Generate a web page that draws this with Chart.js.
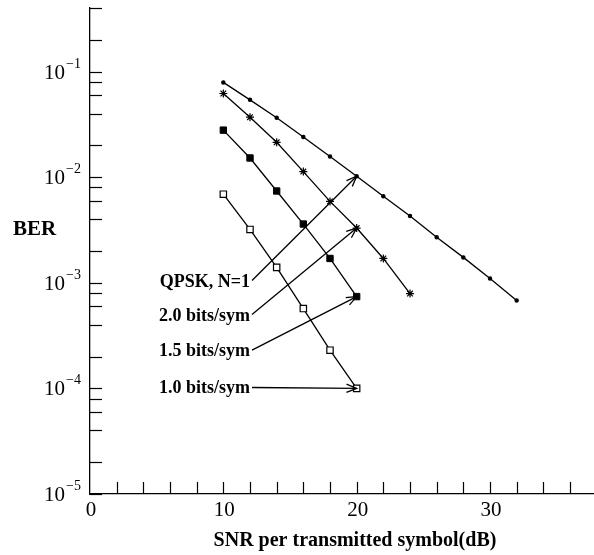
<!DOCTYPE html>
<html>
<head>
<meta charset="utf-8">
<script src="https://cdn.jsdelivr.net/npm/chart.js@4/dist/chart.umd.min.js"></script>
<style>
  html, body { margin: 0; padding: 0; background: #fff; }
  canvas { display: block; }
</style>
</head>
<body>
<canvas id="c" width="594" height="555"></canvas>
<script>
// ---- data ----
const snrA = [10, 12, 14, 16, 18, 20, 22, 24, 26, 28, 30, 32];
const berA = [0.079, 0.054, 0.0366, 0.024, 0.0157, 0.0102, 0.0066, 0.0043, 0.0027, 0.00174, 0.0011, 0.00068]; // QPSK, N=1
const snrB = [10, 12, 14, 16, 18, 20, 22, 24];
const berB = [0.062, 0.037, 0.0214, 0.0113, 0.0059, 0.0033, 0.0017, 0.00079]; // 2.0 bits/sym
const snrC = [10, 12, 14, 16, 18, 20];
const berC = [0.0279, 0.0152, 0.0074, 0.0036, 0.0017, 0.00074]; // 1.5 bits/sym
const snrD = [10, 12, 14, 16, 18, 20];
const berD = [0.0069, 0.0032, 0.0014, 0.00057, 0.00023, 0.0001]; // 1.0 bits/sym

const seriesNames = ['QPSK, N=1', '2.0 bits/sym', '1.5 bits/sym', '1.0 bits/sym'];
// annotation label anchors (data coordinates) and arrow target SNR
const labelSnr = 12.15;
const labelBer = [0.00105, 0.00050, 0.00023, 0.000102];
const arrowTargetSnr = 20;

const xTickValues = [2, 4, 6, 8, 10, 12, 14, 16, 18, 20, 22, 24, 26, 28, 30, 32, 34, 36];
const xLabelValues = [0, 10, 20, 30];
const xLabelTexts = ['0', '10', '20', '30'];
const yMajorValues = [1e-1, 1e-2, 1e-3, 1e-4, 1e-5];
const yMajorBase = '10';
const yMajorExp = ['\u22121', '\u22122', '\u22123', '\u22124', '\u22125'];
const yMinorMult = [2, 4, 6, 8];
const yMinorDecades = [1e-5, 1e-4, 1e-3, 1e-2, 1e-1];

const xTitle = 'SNR per transmitted symbol(dB)';
const yTitle = 'BER';

const SERIF = '"Liberation Serif", "Times New Roman", Times, serif';

function pts(xs, ys) { return xs.map((x, i) => ({ x: x, y: ys[i] })); }

const decorPlugin = {
  id: 'decor',
  afterDraw(chart) {
    const ctx = chart.ctx;
    const xs = chart.scales.x, ys = chart.scales.y;
    const area = chart.chartArea;
    ctx.save();
    ctx.strokeStyle = '#000';
    ctx.fillStyle = '#000';
    ctx.lineWidth = 1.2;
    // y ticks (inward)
    const yTickVals = [];
    yMajorValues.forEach(v => yTickVals.push(v));
    yMinorDecades.forEach(d => yMinorMult.forEach(m => yTickVals.push(d * m)));
    yTickVals.forEach(v => {
      if (v > ys.max * 1.0001 || v < ys.min) return;
      const py = Math.round(ys.getPixelForValue(v)) + 0.5;
      ctx.beginPath();
      ctx.moveTo(area.left, py);
      ctx.lineTo(area.left + 12, py);
      ctx.stroke();
    });
    // x ticks (inward)
    xTickValues.forEach(v => {
      const px = Math.round(xs.getPixelForValue(v)) + 0.5;
      ctx.beginPath();
      ctx.moveTo(px, area.bottom);
      ctx.lineTo(px, area.bottom - 12);
      ctx.stroke();
    });
    // x labels
    ctx.font = '21px ' + SERIF;
    ctx.textAlign = 'center';
    ctx.textBaseline = 'alphabetic';
    xLabelValues.forEach((v, i) => {
      ctx.fillText(xLabelTexts[i], xs.getPixelForValue(v) + 1, area.bottom + 22);
    });
    // y labels with superscript
    yMajorValues.forEach((v, i) => {
      const py = ys.getPixelForValue(v);
      ctx.font = '14px ' + SERIF;
      ctx.textAlign = 'right';
      const supRight = area.left - 9;
      ctx.fillText(yMajorExp[i], supRight, py - 4);
      const supW = ctx.measureText(yMajorExp[i]).width;
      ctx.font = '21px ' + SERIF;
      ctx.fillText(yMajorBase, supRight - supW - 1, py + 7);
    });
    // axis titles
    ctx.font = 'bold 21px ' + SERIF;
    ctx.textAlign = 'left';
    ctx.fillText(yTitle, 13, 235);
    ctx.font = 'bold 20px ' + SERIF;
    ctx.textAlign = 'center';
    ctx.fillText(xTitle, 355, 546);

    // annotations with arrows
    const targets = [berA[snrA.indexOf(arrowTargetSnr)], berB[snrB.indexOf(arrowTargetSnr)],
                     berC[snrC.indexOf(arrowTargetSnr)], berD[snrD.indexOf(arrowTargetSnr)]];
    ctx.lineWidth = 1.3;
    seriesNames.forEach((name, i) => {
      const x0 = xs.getPixelForValue(labelSnr);
      const y0 = ys.getPixelForValue(labelBer[i]);
      const x1 = xs.getPixelForValue(arrowTargetSnr);
      const y1 = ys.getPixelForValue(targets[i]);
      ctx.font = 'bold 18px ' + SERIF;
      ctx.textAlign = 'right';
      ctx.fillText(name, x0 - 2, y0 + 6);
      ctx.beginPath();
      ctx.moveTo(x0, y0);
      ctx.lineTo(x1, y1);
      ctx.stroke();
      const ang = Math.atan2(y1 - y0, x1 - x0);
      const L = 11, h = 0.38;
      ctx.beginPath();
      ctx.moveTo(x1 - L * Math.cos(ang - h), y1 - L * Math.sin(ang - h));
      ctx.lineTo(x1, y1);
      ctx.lineTo(x1 - L * Math.cos(ang + h), y1 - L * Math.sin(ang + h));
      ctx.stroke();
    });
    ctx.restore();
  }
};

const lineCommon = { showLine: true, borderColor: '#000', borderWidth: 1.3, tension: 0 };

new Chart(document.getElementById('c'), {
  type: 'scatter',
  data: {
    datasets: [
      Object.assign({ label: seriesNames[0], data: pts(snrA, berA), pointStyle: 'circle', pointRadius: 1.6,
        pointBackgroundColor: '#000', pointBorderColor: '#000' }, lineCommon),
      Object.assign({ label: seriesNames[1], data: pts(snrB, berB), pointStyle: 'star', pointRadius: 4,
        pointBackgroundColor: '#000', pointBorderColor: '#000', pointBorderWidth: 1.2 }, lineCommon),
      Object.assign({ label: seriesNames[2], data: pts(snrC, berC), pointStyle: 'rect', pointRadius: 4.5,
        pointBackgroundColor: '#000', pointBorderColor: '#000', pointBorderWidth: 1 }, lineCommon),
      Object.assign({ label: seriesNames[3], data: pts(snrD, berD), pointStyle: 'rect', pointRadius: 4.5,
        pointBackgroundColor: '#fff', pointBorderColor: '#000', pointBorderWidth: 1.2 }, lineCommon)
    ]
  },
  options: {
    responsive: false,
    animation: false,
    devicePixelRatio: 1,
    layout: { autoPadding: false, padding: { left: 90, top: 8, right: 0, bottom: 61 } },
    plugins: { legend: { display: false }, tooltip: { enabled: false } },
    scales: {
      x: {
        type: 'linear', min: 0, max: 37.8,
        ticks: { display: false },
        grid: { display: false, drawTicks: false },
        border: { display: true, color: '#000', width: 1.3 },
        afterFit: s => { s.height = 0; }
      },
      y: {
        type: 'logarithmic', min: 1e-5, max: 0.4,
        ticks: { display: false },
        grid: { display: false, drawTicks: false },
        border: { display: true, color: '#000', width: 1.3 },
        afterFit: s => { s.width = 0; }
      }
    }
  },
  plugins: [decorPlugin]
});
</script>
</body>
</html>
